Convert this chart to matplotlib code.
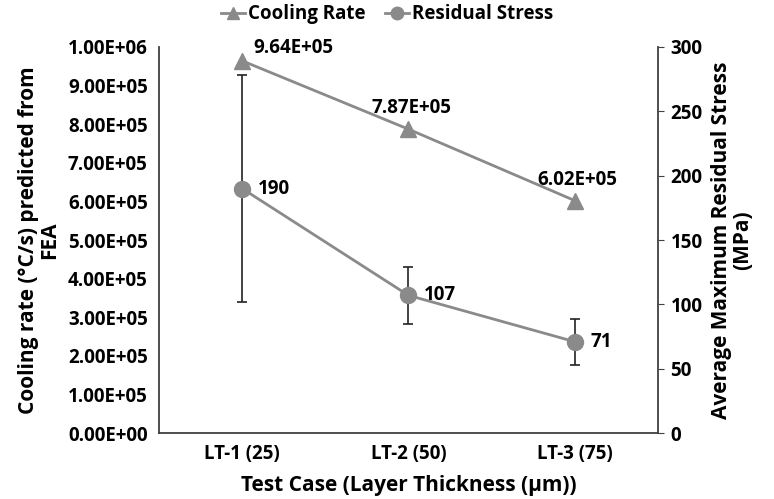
import numpy as np
import matplotlib
matplotlib.use('Agg')
import matplotlib.pyplot as plt
from matplotlib.lines import Line2D

plt.rcParams['font.family'] = ['Open Sans', 'DejaVu Sans']
plt.rcParams['font.weight'] = 'bold'

# data
cases = ['LT-1 (25)', 'LT-2 (50)', 'LT-3 (75)']
cooling_rate = [9.64e5, 7.87e5, 6.02e5]
cooling_labels = ['9.64E+05', '7.87E+05', '6.02E+05']
stress = [190, 107, 71]
stress_err = [88, 22, 18]
left_ticks = np.arange(0, 1.0e6 + 1, 1e5)
right_ticks = np.arange(0, 301, 50)

gray = '#8a8a8a'
fs = 13.5
lfs = 15

fig = plt.figure(figsize=(7.74, 4.99), dpi=100)
ax = fig.add_axes([0.2054, 0.132, 0.6447, 0.774])
x = np.arange(len(cases))

ax.plot(x, cooling_rate, color=gray, lw=2, marker='^', ms=12, zorder=3)
for xi, v, s in zip(x, cooling_rate, cooling_labels):
    off = (8, 2) if xi == 0 else (2, 8)
    ax.annotate(s, (xi, v), xytext=off, textcoords='offset points',
                fontsize=fs, fontweight='bold', ha='left' if xi == 0 else 'center',
                va='bottom')

ax.set_xlim(-0.5, 2.5)
ax.set_ylim(0, 1.0e6)
ax.set_yticks(left_ticks)
ax.set_yticklabels([f'{v:.2E}' for v in left_ticks])
ax.set_xticks(x)
ax.set_xticklabels(cases)
ax.tick_params(axis='both', length=0, labelsize=fs, pad=8)
ax.spines['top'].set_visible(False)
ax.spines['right'].set_visible(False)
for sp in ['left', 'bottom']:
    ax.spines[sp].set_color('#404040')
    ax.spines[sp].set_linewidth(1.3)
ax.set_xlabel('Test Case (Layer Thickness (µm))', fontsize=lfs, fontweight='bold', labelpad=8)
ax.set_ylabel('Cooling rate (°C/s) predicted from\nFEA', fontsize=lfs, fontweight='bold',
              labelpad=6, linespacing=1.0)

ax2 = ax.twinx()
ax2.errorbar(x, stress, yerr=stress_err, color=gray, lw=2, marker='o', ms=11.5,
             ecolor='#222222', elinewidth=1.2, capsize=3.5, capthick=1.2, zorder=3)
for xi, v in zip(x, stress):
    ax2.annotate(str(v), (xi, v), xytext=(11, 0), textcoords='offset points',
                 fontsize=fs, fontweight='bold', ha='left', va='center')
ax2.set_ylim(0, 300)
ax2.set_yticks(right_ticks)
ax2.tick_params(axis='y', length=4, labelsize=fs, pad=5, color='#404040')
for sp in ['top', 'left', 'bottom']:
    ax2.spines[sp].set_visible(False)
ax2.spines['right'].set_color('#404040')
ax2.spines['right'].set_linewidth(1.3)
ax2.set_ylabel('Average Maximum Residual Stress\n(MPa)', fontsize=lfs, fontweight='bold',
               labelpad=6, linespacing=1.0)

handles = [Line2D([], [], color=gray, lw=2, marker='^', ms=9),
           Line2D([], [], color=gray, lw=2, marker='o', ms=9)]
fig.legend(handles, ['Cooling Rate', 'Residual Stress'], loc='upper center',
           bbox_to_anchor=(0.5, 1.025), ncol=2, frameon=False, fontsize=fs,
           handlelength=1.3, handletextpad=0.15, columnspacing=1.0)

fig.savefig('out.png', dpi=100)
